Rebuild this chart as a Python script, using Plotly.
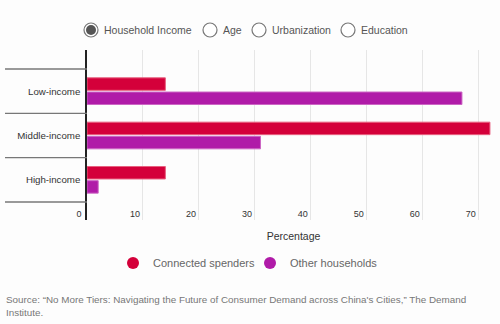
import plotly.graph_objects as go

# Share of households in each income group, by household type (%)
categories = ["Low-income", "Middle-income", "High-income"]
connected_spenders = [14, 72, 14]
other_households = [67, 31, 2]
x_ticks = [0, 10, 20, 30, 40, 50, 60, 70]
filter_options = ["Household Income", "Age", "Urbanization", "Education"]
selected_option = "Household Income"

RED = "#d4003a"
PURPLE = "#b01ba8"
FONT = "Liberation Sans, Arial, sans-serif"

fig = go.Figure()

fig.add_trace(go.Bar(
    y=categories, x=connected_spenders, orientation="h",
    name="Connected spenders", showlegend=False,
    marker=dict(color=RED, line=dict(color="#e8607f", width=1)),
    hoverinfo="x+y",
))
fig.add_trace(go.Bar(
    y=categories, x=other_households, orientation="h",
    name="Other households", showlegend=False,
    marker=dict(color=PURPLE, line=dict(color="#cc66c4", width=1)),
    hoverinfo="x+y",
))

# Circular legend swatches
for name, color in [("Connected spenders", RED), ("Other households", PURPLE)]:
    fig.add_trace(go.Scatter(
        x=[None], y=[None], mode="markers", name=name,
        marker=dict(symbol="circle", size=13, color=color),
        showlegend=True,
    ))

# Plot box in pixels
W, H = 500, 324
left, right, top, bottom = 87, 0, 50, 104
plot_w = W - left - right
plot_h = H - top - bottom
band_px = 44.33
y_top = -0.5 - 19 / band_px
y_bot = 2.5 + 18 / band_px


def py(px_from_top):
    """Paper y coordinate for a pixel row of the page."""
    return (top + plot_h - px_from_top) / plot_h


def px_x(px_from_left):
    return (px_from_left - left) / plot_w


shapes = []
# Category boundary rules running left from the axis
for b in [-0.5, 0.5, 1.5, 2.5]:
    shapes.append(dict(
        type="line", xref="paper", yref="y",
        x0=px_x(5), x1=0, y0=b, y1=b,
        line=dict(color="#777777", width=1.3),
    ))

# Filter radio buttons along the top
annotations = []
radio_x = [91, 210, 259, 348]
radio_y = py(30)
for label, cx in zip(filter_options, radio_x):
    shapes.append(dict(
        type="circle", xref="paper", yref="paper",
        xsizemode="pixel", ysizemode="pixel",
        xanchor=px_x(cx), yanchor=radio_y,
        x0=-7, x1=7, y0=-7, y1=7,
        line=dict(color="#777777", width=1.2), fillcolor="white",
    ))
    if label == selected_option:
        shapes.append(dict(
            type="circle", xref="paper", yref="paper",
            xsizemode="pixel", ysizemode="pixel",
            xanchor=px_x(cx), yanchor=radio_y,
            x0=-5, x1=5, y0=-5, y1=5,
            line=dict(width=0), fillcolor="#555555",
        ))
    annotations.append(dict(
        text=label, xref="paper", yref="paper",
        x=px_x(cx + 11), y=radio_y, xanchor="left", yanchor="middle",
        showarrow=False, font=dict(family=FONT, size=10.5, color="#555555"),
    ))

annotations.append(dict(
    text="Source: \u201cNo More Tiers: Navigating the Future of Consumer Demand across China's Cities,\u201d The Demand<br>Institute.",
    xref="paper", yref="paper", x=px_x(4), y=py(306),
    xanchor="left", yanchor="middle", align="left", showarrow=False,
    font=dict(family=FONT, size=9.85, color="#777777"),
))

fig.update_layout(
    width=W, height=H,
    margin=dict(l=left, r=right, t=top, b=bottom, pad=0),
    paper_bgcolor="#fdfdfd", plot_bgcolor="#fdfdfd",
    barmode="group", bargap=0.36, bargroupgap=0.12,
    font=dict(family=FONT, size=10, color="#333333"),
    shapes=shapes, annotations=annotations,
    legend=dict(
        orientation="h", x=px_x(113), y=py(263),
        xanchor="left", yanchor="middle",
        font=dict(family=FONT, size=11, color="#666666"),
        itemsizing="constant", itemwidth=30, entrywidth=92,
        bgcolor="rgba(0,0,0,0)",
    ),
    xaxis=dict(
        range=[0, 73.8], tickvals=x_ticks, ticktext=[str(t) for t in x_ticks],
        showgrid=True, gridcolor="#e6e6e6", gridwidth=1,
        zeroline=False, showline=False, ticks="",
        ticklabelshift=-8, ticklabelstandoff=-13,
        tickfont=dict(family=FONT, size=9, color="#333333"),
        title=dict(text="Percentage", standoff=14,
                   font=dict(family=FONT, size=10.5, color="#333333")),
        fixedrange=True,
    ),
    yaxis=dict(
        categoryorder="array", categoryarray=categories,
        range=[y_bot, y_top],
        showgrid=False, zeroline=False,
        showline=True, linecolor="#222222", linewidth=1.5,
        ticks="", ticklabelstandoff=3,
        tickfont=dict(family=FONT, size=9.7, color="#333333"),
        fixedrange=True,
    ),
)

fig.write_html("out.html")
